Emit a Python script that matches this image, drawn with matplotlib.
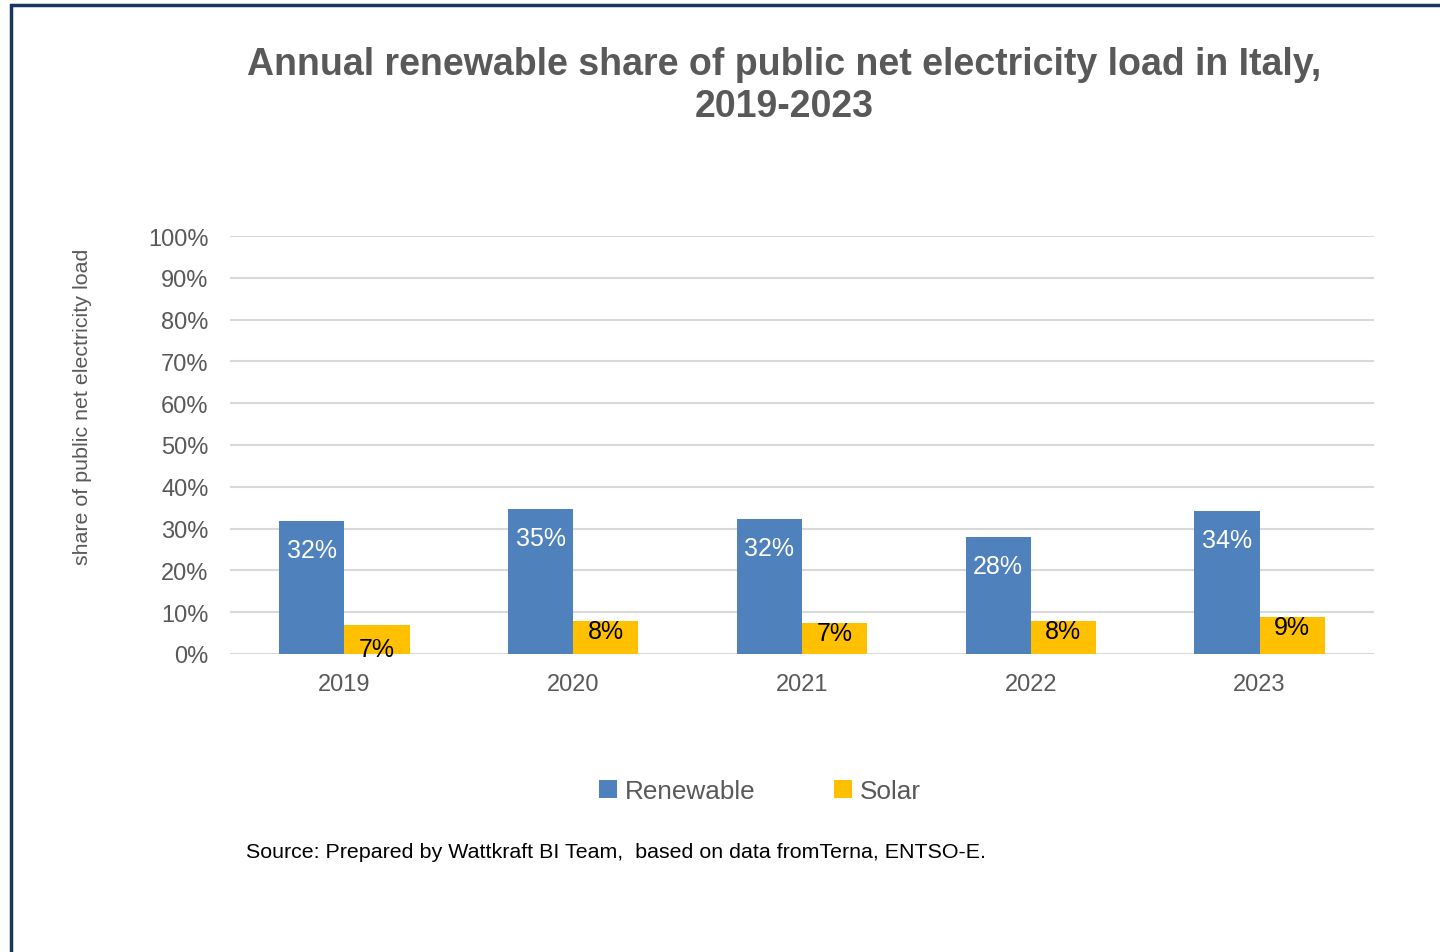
import numpy as np
import matplotlib.pyplot as plt
from matplotlib.patches import Rectangle

plt.rcParams['font.family'] = ['Liberation Sans', 'DejaVu Sans']

years = ['2019', '2020', '2021', '2022', '2023']
renewable = [31.8, 34.7, 32.3, 28.0, 34.2]
solar = [6.9, 7.9, 7.4, 7.9, 8.9]
renewable_labels = ['32%', '35%', '32%', '28%', '34%']
solar_labels = ['7%', '8%', '7%', '8%', '9%']

blue = '#4F81BD'
gold = '#FFC000'
grey = '#595959'

fig = plt.figure(figsize=(14.4, 9.53), dpi=100)
ax = fig.add_axes([230 / 1440, 1 - 655 / 953, 1144 / 1440, 418 / 953])

x = np.arange(len(years))
w = 0.285
ax.bar(x - w / 2, renewable, w, color=blue, label='Renewable', zorder=3)
ax.bar(x + w / 2, solar, w, color=gold, label='Solar', zorder=3)

for i in range(len(years)):
    ax.annotate(renewable_labels[i], (x[i] - w / 2, renewable[i]), xytext=(0, -21),
                textcoords='offset points', ha='center', va='center',
                color='white', fontsize=18)
    # first solar label sits lower, as in the original
    dy = -17 if i == 0 else -7
    ax.annotate(solar_labels[i], (x[i] + w / 2, solar[i]), xytext=(0, dy),
                textcoords='offset points', ha='center', va='center',
                color='black', fontsize=18, zorder=4)

ax.set_xlim(-0.5, len(years) - 0.5)
ax.set_ylim(0, 100)
ax.set_yticks(range(0, 101, 10))
ax.set_yticklabels([f'{v}%' for v in range(0, 101, 10)])
ax.set_xticks(x)
ax.set_xticklabels(years)
ax.tick_params(length=0, labelsize=17, labelcolor=grey)
ax.tick_params(axis='y', pad=15.5)
ax.tick_params(axis='x', pad=14)
ax.grid(axis='y', color='#D9D9D9', lw=1.5, zorder=0)
for s in ax.spines.values():
    s.set_visible(False)

fig.text(784 / 1440, 1 - 86 / 953, 'Annual renewable share of public net electricity load in Italy,\n2019-2023',
         ha='center', va='center', fontsize=27, fontweight='bold', color=grey, linespacing=1.2)
fig.text(83 / 1440, 1 - 407 / 953, 'share of public net electricity load', rotation=90,
         ha='center', va='center', fontsize=15.4, color=grey)
fig.text(246 / 1440, 1 - 852 / 953, 'Source: Prepared by Wattkraft BI Team,  based on data fromTerna, ENTSO-E.',
         ha='left', va='center', fontsize=15.4, color='black')

fig.legend(loc='center', bbox_to_anchor=(760 / 1440, 1 - 792 / 953), ncol=2, frameon=False,
           fontsize=18.8, labelcolor=grey, handlelength=0.7, handleheight=0.7,
           handletextpad=0.3, columnspacing=3.0)

# frame lines on the left and top
fig.add_artist(Rectangle((10.5 / 1440, -0.01), 1.2, 1 - 5.5 / 953 + 0.01, transform=fig.transFigure,
                         fill=False, edgecolor='#17375E', lw=2.5))

fig.savefig('out.png', dpi=100)
